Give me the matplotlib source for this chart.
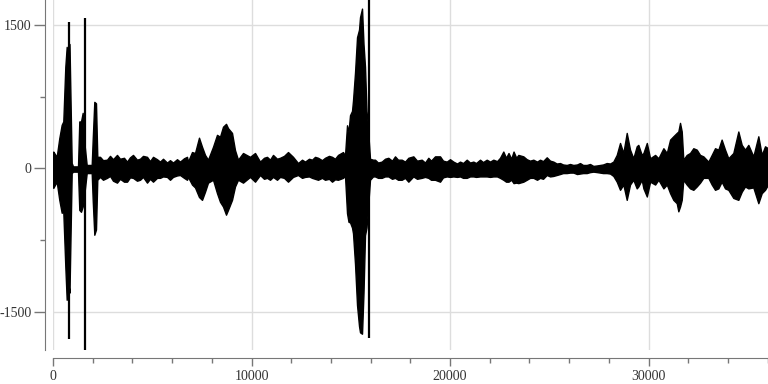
import numpy as np
import matplotlib
matplotlib.use("Agg")
import matplotlib.pyplot as plt
from matplotlib.ticker import FixedLocator

# envelope of the waveform (sample index, upper value, lower value)
sample = [
    0, 15, 186, 317, 438, 519, 620, 690, 771, 831, 942, 1008, 1260, 1325, 1411, 1496, 1562,
    1698, 1950, 2000, 2081, 2166, 2232,
    2368, 2519, 2720, 2872, 3023, 3224, 3375, 3577, 3728, 3879, 4030, 4232, 4383, 4534, 4736,
    4887, 5038, 5240, 5391, 5542, 5743, 5894, 6046, 6247, 6398, 6600, 6751,
    6801, 7003, 7154, 7355, 7507, 7658, 7809, 8061, 8262, 8413, 8565, 8716, 8817, 9018, 9169,
    9320, 9572,
    9925, 10177, 10429, 10630, 10781, 10932, 11084, 11285, 11436, 11638, 11839, 12091, 12343,
    12545, 12696, 12897, 13048, 13200, 13351, 13552, 13703, 13905, 14056, 14207, 14358, 14610,
    14711, 14812, 14887, 14963, 15064, 15114, 15215, 15316, 15417, 15467, 15568, 15643, 15719,
    15794, 15840, 15970,
    16122, 16222, 16374, 16560, 16726, 16893, 17079, 17230, 17381, 17568, 17734, 17901, 18152,
    18338, 18575, 18741, 18908, 19044, 19245, 19497, 19648, 19835, 20001, 20167, 20354, 20505,
    20656, 20842, 21008, 21175, 21311, 21512, 21663, 21850, 22016, 22182, 22369, 22520, 22686,
    22822, 22948, 23084, 23201, 23337, 23442, 23694,
    23865, 24031, 24198, 24384, 24535, 24686, 24873, 25039, 25205, 25376, 25543, 25694, 25880,
    26046, 26213, 26399, 26550, 26701, 26888, 27054, 27221, 27407, 27558, 27709, 27895, 28062,
    28228, 28400, 28566, 28732, 28903, 29069, 29235, 29406, 29487, 29658,
    29744, 29915, 30081, 30333, 30499, 30751, 30922, 31088, 31251, 31422, 31503, 31588, 31674,
    31754, 31925, 32092, 32258, 32429, 32596, 32762, 33014, 33185, 33352, 33518, 33684, 33855,
    34021, 34273, 34525, 34696, 34863, 35029, 35281, 35533, 35704, 35870, 36021,
]
upper = [
    170, 175, 120, 315, 455, 490, 1060, 1270, 1135, 1300, 55, 20, 20, 490, 490, 580, 300,
    35, 35, 300, 695, 680, 120,
    120, 85, 90, 130, 95, 140, 100, 110, 70, 115, 140, 90, 100, 130, 120,
    75, 120, 95, 70, 100, 60, 85, 60, 95, 70, 105, 120,
    70, 170, 160, 320, 225, 140, 90, 225, 350, 330, 435, 465, 420, 370, 190,
    90, 160,
    120, 160, 70, 110, 120, 90, 140, 100, 110, 130, 170, 120, 55,
    90, 70, 100, 90, 120, 110, 85, 110, 130, 120, 100, 140, 170,
    135, 450, 380, 555, 600, 710, 1000, 1370, 1450, 1580, 1670, 1300, 1060,
    600, 500, 100,
    90, 90, 60, 70, 100, 110, 80, 125, 90, 90, 70, 110, 125,
    80, 90, 60, 110, 80, 125, 125, 80, 70, 95, 70, 50, 70,
    55, 90, 60, 70, 55, 90, 65, 90, 70, 90, 75, 110, 175,
    110, 160, 100, 175, 110, 140, 125,
    95, 80, 90, 70, 90, 75, 115, 80, 70, 50, 55, 40, 35,
    45, 35, 40, 55, 35, 35, 45, 25, 30, 35, 40, 55, 50,
    70, 140, 265, 160, 370, 195, 105, 230, 245, 140,
    160, 265, 105, 140, 105, 210, 160, 300, 335, 370, 385, 475, 385,
    90, 140, 160, 210, 195, 140, 125, 70, 140, 210, 195, 300, 195,
    105, 160, 385, 245, 195, 245, 125, 335, 140, 230, 210,
]
lower = [
    -180, -205, -140, -330, -465, -455, -1025, -1375, -1200, -1300, -50, -35, -35, -435, -455, -400, -300,
    -50, -50, -330, -695, -640, -120,
    -90, -120, -100, -80, -130, -150, -110, -140, -140, -95, -100, -130, -120, -90, -150,
    -110, -140, -100, -100, -85, -90, -120, -90, -75, -70, -100, -120,
    -90, -170, -200, -300, -330, -245, -150, -120, -260, -350, -400, -485, -435, -330, -190,
    -120, -150,
    -90, -140, -70, -110, -100, -120, -90, -120, -90, -100, -140, -90, -70,
    -100, -90, -85, -100, -110, -120, -100, -120, -110, -140, -115, -120, -100,
    -80, -470, -560, -565, -620, -680, -1000, -1430, -1650, -1715, -1730, -1300, -700,
    -620, -500, -120,
    -85, -85, -100, -100, -85, -85, -110, -100, -120, -120, -100, -140, -85,
    -110, -100, -90, -100, -120, -120, -140, -95, -85, -90, -85, -90, -85,
    -100, -100, -85, -85, -90, -85, -85, -85, -90, -85, -85, -100, -120,
    -140, -140, -120, -155, -150, -155, -140,
    -120, -100, -100, -120, -100, -110, -70, -85, -80, -70, -60, -50, -50,
    -45, -45, -60, -55, -50, -50, -40, -35, -40, -45, -50, -50, -55,
    -80, -140, -225, -170, -330, -170, -120, -210, -190, -120,
    -210, -295, -140, -170, -120, -210, -170, -260, -330, -365, -450, -400, -330,
    -120, -170, -210, -225, -190, -150, -100, -100, -170, -225, -210, -140, -210,
    -225, -310, -330, -245, -190, -210, -200, -365, -260, -225, -170,
]

# single-sample clicks
spike_x = [831, 1612, 15900]
spike_lo = [-1790, -1905, -1770]
spike_hi = [1525, 1570, 1900]

y_major = [-1500, 0, 1500]
y_minor = [-750, 750]
x_major = [0, 10000, 20000, 30000]
x_minor = list(range(0, 36001, 2000))

plt.rcParams['font.family'] = ['Liberation Serif', 'DejaVu Serif']
plt.rcParams['axes.unicode_minus'] = False

fig = plt.figure(figsize=(7.68, 3.84), dpi=100)
ax = fig.add_axes([53 / 768, 34 / 384, 715 / 768, 350 / 384])

ax.fill_between(sample, lower, upper, color='black', lw=1.0)
ax.vlines(spike_x, spike_lo, spike_hi, color='black', lw=1.6)

ax.set_xlim(0, 36020)
ax.set_ylim(-1900, 1760)

ax.xaxis.set_major_locator(FixedLocator(x_major))
ax.xaxis.set_minor_locator(FixedLocator(x_minor))
ax.yaxis.set_major_locator(FixedLocator(y_major))
ax.yaxis.set_minor_locator(FixedLocator(y_minor))

ax.grid(True, which='major', color='#dddddd', lw=1)
ax.set_axisbelow(True)

for s in ['top', 'right']:
    ax.spines[s].set_visible(False)
for s in ['left', 'bottom']:
    ax.spines[s].set_position(('outward', 5.8))
    ax.spines[s].set_color('#777777')

ax.tick_params(axis='y', which='major', length=8, width=1, color='#777777', pad=1.5,
               labelsize=10, labelcolor='#333333')
ax.tick_params(axis='y', which='minor', length=3.6, width=1, color='#777777')
ax.tick_params(axis='x', which='major', length=5.5, width=1, color='#777777', pad=3,
               labelsize=10, labelcolor='#333333')
ax.tick_params(axis='x', which='minor', length=3.6, width=1, color='#777777')

fig.savefig('out.png', dpi=100)
